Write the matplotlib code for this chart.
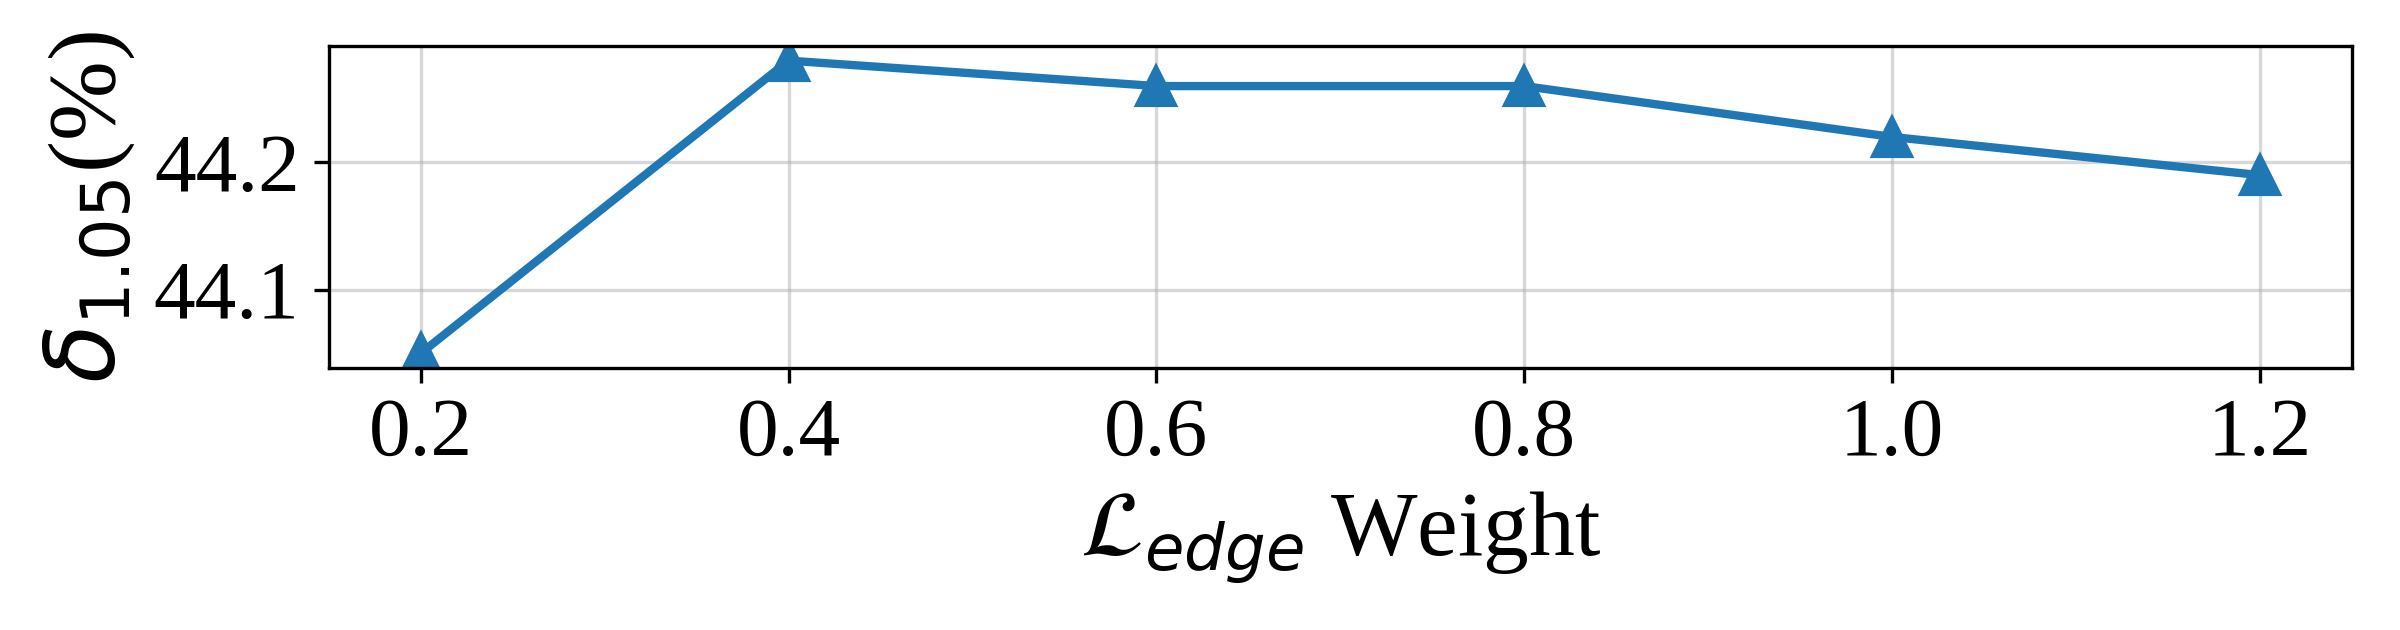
import matplotlib
matplotlib.use("Agg")
import matplotlib.pyplot as plt

plt.rcParams['font.family'] = 'serif'
plt.rcParams['font.serif'] = ['Liberation Serif', 'DejaVu Serif']
plt.rcParams['mathtext.fontset'] = 'dejavusans'

weights = [0.2, 0.4, 0.6, 0.8, 1.0, 1.2]
delta = [44.05, 44.28, 44.26, 44.26, 44.22, 44.19]

fig, ax = plt.subplots(figsize=(8, 2.1), dpi=300)
ax.plot(weights, delta, marker='^', color='tab:blue', linewidth=2, markersize=9)
ax.grid(True, alpha=0.5)
ax.set_axisbelow(True)
ax.set_yticks([44.1, 44.2])
ax.set_xticks(weights)
ax.tick_params(labelsize=20)
ax.set_xlabel(r'$\mathcal{L}_{edge}$ Weight', fontsize=22)
ax.set_ylabel(r'$\delta_{1.05}$(%)', fontsize=23)
fig.subplots_adjust(left=0.137, right=0.980, top=0.927, bottom=0.416)
fig.savefig("out.png")
